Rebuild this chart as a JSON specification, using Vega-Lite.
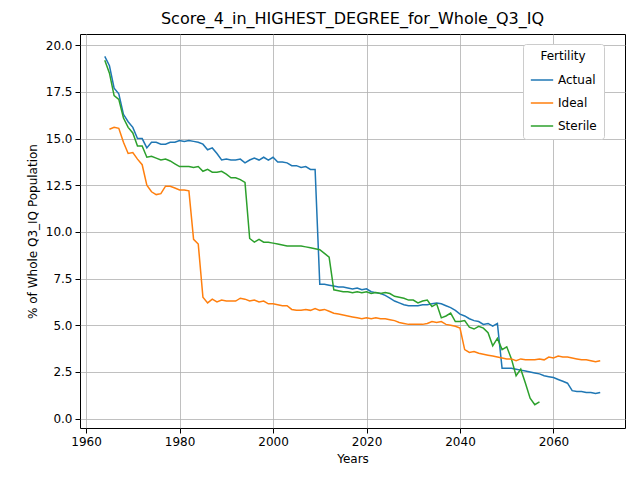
{
"$schema":"https://vega.github.io/schema/vega-lite/v6.json",
"width":545,"height":394,
"autosize":{"type":"none"},
"padding":{"left":80,"top":34,"right":15,"bottom":52},
"background":"white",
"title":{"text":"Score_4_in_HIGHEST_DEGREE_for_Whole_Q3_IQ","fontSize":16,"font":"DejaVu Sans","fontWeight":"normal","offset":7},
"data":{"values":[
{"y":1964,"A":19.4,"I":null,"S":19.2},{"y":1965,"A":18.9,"I":15.5,"S":18.5},{"y":1966,"A":17.7,"I":15.6,"S":17.3},{"y":1967,"A":17.4,"I":15.55,"S":17.1},{"y":1968,"A":16.3,"I":14.8,"S":16.1},{"y":1969,"A":15.9,"I":14.2,"S":15.6},{"y":1970,"A":15.6,"I":14.25,"S":15.3},{"y":1971,"A":15.0,"I":13.9,"S":14.6},{"y":1972,"A":15.0,"I":13.6,"S":14.6},{"y":1973,"A":14.5,"I":12.5,"S":14.0},{"y":1974,"A":14.8,"I":12.15,"S":14.05},{"y":1975,"A":14.8,"I":12.0,"S":13.95},{"y":1976,"A":14.7,"I":12.05,"S":13.85},{"y":1977,"A":14.7,"I":12.45,"S":13.9},{"y":1978,"A":14.8,"I":12.45,"S":13.8},{"y":1979,"A":14.8,"I":12.35,"S":13.65},{"y":1980,"A":14.9,"I":12.25,"S":13.5},{"y":1981,"A":14.85,"I":12.25,"S":13.5},{"y":1982,"A":14.9,"I":12.2,"S":13.5},{"y":1983,"A":14.85,"I":9.6,"S":13.45},{"y":1984,"A":14.8,"I":9.35,"S":13.5},{"y":1985,"A":14.7,"I":6.5,"S":13.25},{"y":1986,"A":14.4,"I":6.2,"S":13.35},{"y":1987,"A":14.5,"I":6.4,"S":13.2},{"y":1988,"A":14.2,"I":6.25,"S":13.2},{"y":1989,"A":13.85,"I":6.35,"S":13.25},{"y":1990,"A":13.9,"I":6.3,"S":13.1},{"y":1991,"A":13.85,"I":6.3,"S":12.9},{"y":1992,"A":13.85,"I":6.3,"S":12.9},{"y":1993,"A":13.9,"I":6.45,"S":12.8},{"y":1994,"A":13.7,"I":6.4,"S":12.65},{"y":1995,"A":13.85,"I":6.3,"S":9.65},{"y":1996,"A":13.95,"I":6.35,"S":9.45},{"y":1997,"A":13.85,"I":6.25,"S":9.6},{"y":1998,"A":14.0,"I":6.3,"S":9.45},{"y":1999,"A":13.85,"I":6.15,"S":9.45},{"y":2000,"A":14.0,"I":6.15,"S":9.4},{"y":2001,"A":13.75,"I":6.1,"S":9.35},{"y":2002,"A":13.75,"I":6.05,"S":9.3},{"y":2003,"A":13.7,"I":6.05,"S":9.25},{"y":2004,"A":13.55,"I":5.85,"S":9.25},{"y":2005,"A":13.55,"I":5.8,"S":9.25},{"y":2006,"A":13.45,"I":5.8,"S":9.25},{"y":2007,"A":13.5,"I":5.85,"S":9.2},{"y":2008,"A":13.35,"I":5.8,"S":9.15},{"y":2009,"A":13.35,"I":5.9,"S":9.1},{"y":2010,"A":7.2,"I":5.8,"S":9.05},{"y":2011,"A":7.2,"I":5.85,"S":8.85},{"y":2012,"A":7.15,"I":5.75,"S":8.65},{"y":2013,"A":7.1,"I":5.65,"S":6.9},{"y":2014,"A":7.05,"I":5.6,"S":6.85},{"y":2015,"A":7.05,"I":5.55,"S":6.8},{"y":2016,"A":7.0,"I":5.5,"S":6.8},{"y":2017,"A":6.95,"I":5.45,"S":6.75},{"y":2018,"A":7.0,"I":5.4,"S":6.8},{"y":2019,"A":6.9,"I":5.35,"S":6.75},{"y":2020,"A":6.95,"I":5.4,"S":6.8},{"y":2021,"A":6.8,"I":5.35,"S":6.7},{"y":2022,"A":6.75,"I":5.4,"S":6.75},{"y":2023,"A":6.7,"I":5.35,"S":6.7},{"y":2024,"A":6.6,"I":5.35,"S":6.75},{"y":2025,"A":6.45,"I":5.3,"S":6.7},{"y":2026,"A":6.3,"I":5.25,"S":6.55},{"y":2027,"A":6.2,"I":5.15,"S":6.5},{"y":2028,"A":6.1,"I":5.1,"S":6.45},{"y":2029,"A":6.05,"I":5.05,"S":6.35},{"y":2030,"A":6.05,"I":5.05,"S":6.35},{"y":2031,"A":6.05,"I":5.05,"S":6.2},{"y":2032,"A":6.1,"I":5.05,"S":6.3},{"y":2033,"A":6.1,"I":5.1,"S":6.35},{"y":2034,"A":6.15,"I":5.2,"S":6.0},{"y":2035,"A":6.2,"I":5.15,"S":6.15},{"y":2036,"A":6.15,"I":5.2,"S":5.4},{"y":2037,"A":6.05,"I":5.05,"S":5.5},{"y":2038,"A":5.95,"I":5.0,"S":5.65},{"y":2039,"A":5.8,"I":4.95,"S":5.2},{"y":2040,"A":5.6,"I":4.85,"S":5.2},{"y":2041,"A":5.5,"I":3.7,"S":5.25},{"y":2042,"A":5.35,"I":3.55,"S":4.9},{"y":2043,"A":5.25,"I":3.6,"S":4.8},{"y":2044,"A":5.2,"I":3.5,"S":4.95},{"y":2045,"A":5.05,"I":3.45,"S":4.85},{"y":2046,"A":5.1,"I":3.4,"S":4.6},{"y":2047,"A":4.95,"I":3.35,"S":3.9},{"y":2048,"A":5.1,"I":3.3,"S":4.3},{"y":2049,"A":2.7,"I":3.25,"S":3.7},{"y":2050,"A":2.7,"I":3.2,"S":3.85},{"y":2051,"A":2.7,"I":3.2,"S":3.2},{"y":2052,"A":2.65,"I":3.1,"S":2.3},{"y":2053,"A":2.6,"I":3.2,"S":2.65},{"y":2054,"A":2.55,"I":3.15,"S":1.9},{"y":2055,"A":2.5,"I":3.15,"S":1.1},{"y":2056,"A":2.45,"I":3.15,"S":0.75},{"y":2057,"A":2.4,"I":3.2,"S":0.9},{"y":2058,"A":2.3,"I":3.15,"S":null},{"y":2059,"A":2.25,"I":3.3,"S":null},{"y":2060,"A":2.2,"I":3.25,"S":null},{"y":2061,"A":2.1,"I":3.35,"S":null},{"y":2062,"A":2.0,"I":3.3,"S":null},{"y":2063,"A":1.9,"I":3.3,"S":null},{"y":2064,"A":1.5,"I":3.25,"S":null},{"y":2065,"A":1.45,"I":3.2,"S":null},{"y":2066,"A":1.45,"I":3.15,"S":null},{"y":2067,"A":1.4,"I":3.15,"S":null},{"y":2068,"A":1.4,"I":3.1,"S":null},{"y":2069,"A":1.35,"I":3.05,"S":null},{"y":2070,"A":1.4,"I":3.1,"S":null}
]},
"transform":[
{"fold":["A","I","S"],"as":["k","v"]},
{"filter":"datum.v != null"},
{"lookup":"k","from":{"data":{"values":[{"k":"A","n":"Actual"},{"k":"I","n":"Ideal"},{"k":"S","n":"Sterile"}]},"key":"k","fields":["n"]}}
],
"mark":{"type":"line","strokeWidth":1.5},
"encoding":{
"x":{"field":"y","type":"quantitative","title":"Years","scale":{"domain":[1958.7,2075.3],"nice":false,"zero":false},"axis":{"values":[1960,1980,2000,2020,2040,2060],"format":"d"}},
"y":{"field":"v","type":"quantitative","title":"% of Whole Q3_IQ Population","scale":{"domain":[-0.5,20.6],"nice":false},"axis":{"values":[0,2.5,5,7.5,10,12.5,15,17.5,20],"format":".1f"}},
"color":{"field":"n","type":"nominal","title":"Fertility","scale":{"domain":["Actual","Ideal","Sterile"],"range":["#1f77b4","#ff7f0e","#2ca02c"]},
"legend":{"orient":"none","legendX":443,"legendY":10,"padding":7,"strokeColor":"#cccccc","fillColor":"white","cornerRadius":3,"symbolType":"stroke","symbolSize":500,"symbolStrokeWidth":1.5,"titleAnchor":"middle","titleFontWeight":"normal","rowPadding":5}}
},
"config":{
"font":"DejaVu Sans",
"view":{"stroke":"black","strokeWidth":1},
"axis":{"grid":true,"gridColor":"#b0b0b0","gridWidth":0.8,"domain":false,"tickColor":"black","labelColor":"black","labelFontSize":12,"titleFontSize":12,"titleFontWeight":"normal","labelPadding":3,"titlePadding":6},
"legend":{"labelFontSize":12,"titleFontSize":12}
}
}
